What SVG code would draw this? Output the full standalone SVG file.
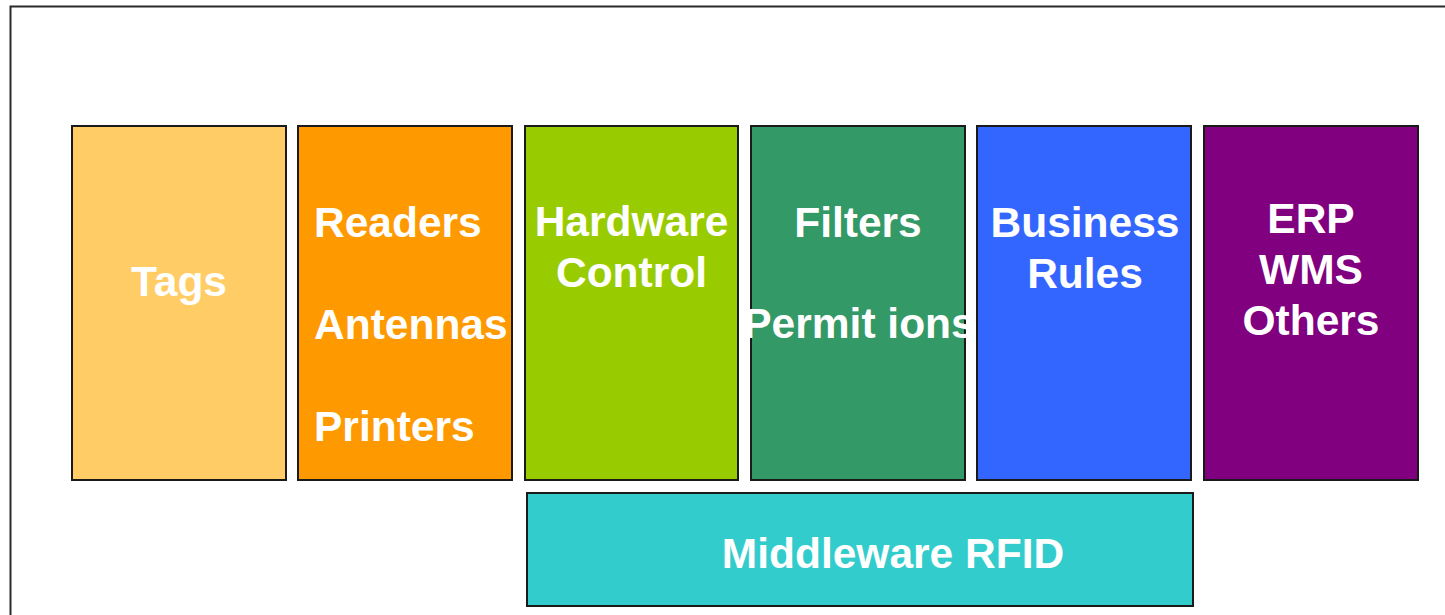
<svg xmlns="http://www.w3.org/2000/svg" width="1445" height="615" viewBox="0 0 1445 615">
<style>
.box{stroke:#1a1a1a;stroke-width:2}
.t{font-family:"Liberation Sans",Arial,sans-serif;font-weight:bold;font-size:42.5px;fill:#ffffff}
.m{text-anchor:middle}
</style>
<rect x="0" y="0" width="1445" height="615" fill="#ffffff"/>
<rect x="10.5" y="6.5" width="1450" height="620" fill="#ffffff" stroke="#2a2a2a" stroke-width="2"/>
<g id="tags">
<rect class="box" x="72" y="126" width="214" height="354" fill="#FFCC66"/>
<text class="t m" x="179" y="296">Tags</text>
</g>
<g id="readers">
<rect class="box" x="298" y="126" width="214" height="354" fill="#FF9900"/>
<text class="t" x="314" y="237">Readers</text>
<text class="t" x="314" y="339">Antennas</text>
<text class="t" x="314" y="441">Printers</text>
</g>
<g id="hardware">
<rect class="box" x="525" y="126" width="213" height="354" fill="#99CC00"/>
<text class="t m" x="631.5" y="236">Hardware</text>
<text class="t m" x="631.5" y="287">Control</text>
</g>
<g id="filters">
<rect class="box" x="751" y="126" width="214" height="354" fill="#339966"/>
<text class="t m" x="858" y="237">Filters</text>
<text class="t m" x="859" y="338">Permit ions</text>
</g>
<g id="business">
<rect class="box" x="977" y="126" width="214" height="354" fill="#3366FF"/>
<text class="t m" x="1085" y="237">Business</text>
<text class="t m" x="1085" y="288">Rules</text>
</g>
<g id="erp">
<rect class="box" x="1204" y="126" width="214" height="354" fill="#800080"/>
<text class="t m" x="1311" y="233">ERP</text>
<text class="t m" x="1311" y="284">WMS</text>
<text class="t m" x="1311" y="335">Others</text>
</g>
<g id="middleware">
<rect class="box" x="527" y="493" width="666" height="113" fill="#33CCCC"/>
<text class="t m" x="893" y="568">Middleware RFID</text>
</g>
<g id="connectors"></g>
</svg>
